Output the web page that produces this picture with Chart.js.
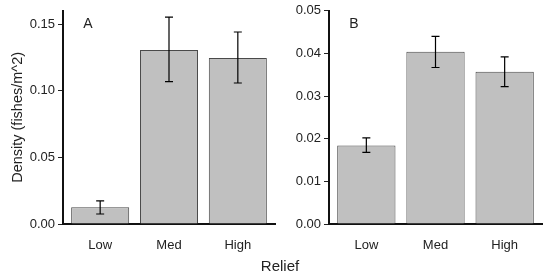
<!DOCTYPE html>
<html>
<head>
<meta charset="utf-8">
<script src="https://cdn.jsdelivr.net/npm/chart.js@4.4.1/dist/chart.umd.min.js"></script>
<style>
  body { margin: 0; background: #fff; }
  #wrap { position: relative; width: 550px; height: 275px; font-family: "Liberation Sans", Arial, sans-serif; }
  canvas { position: absolute; top: 0; }
  #xtitle { position: absolute; left: 230px; width: 100px; top: 257px; text-align: center; font-size: 15px; line-height: 17px; color: #222; }
</style>
</head>
<body>
<div id="wrap">
  <canvas id="chartA" width="280" height="275" style="left:0px"></canvas>
  <canvas id="chartB" width="270" height="275" style="left:280px"></canvas>
  <div id="xtitle">Relief</div>
</div>
<script>
// data
const categories = ["Low", "Med", "High"];

const meanA = [0.0125, 0.1305, 0.1245];
const lowA  = [0.0075, 0.1068, 0.1058];
const highA = [0.0173, 0.1552, 0.1441];
const ticksA = [0, 0.05, 0.10, 0.15];

const meanB = [0.0184, 0.0404, 0.0357];
const lowB  = [0.0168, 0.0367, 0.0322];
const highB = [0.0202, 0.0440, 0.0392];
const ticksB = [0, 0.01, 0.02, 0.03, 0.04, 0.05];

const ink = "#222";
const fontName = "'Liberation Sans', Arial, sans-serif";

// error bars + panel letter
const extras = {
  id: "extras",
  afterDatasetsDraw(chart, args, opts) {
    const ctx = chart.ctx;
    const xs = chart.scales.x, ys = chart.scales.y;
    ctx.save();
    ctx.strokeStyle = "#000";
    ctx.lineWidth = 1.2;
    for (let i = 0; i < opts.lo.length; i++) {
      const x = xs.getPixelForValue(i);
      const y1 = ys.getPixelForValue(opts.lo[i]);
      const y2 = ys.getPixelForValue(opts.hi[i]);
      ctx.beginPath();
      ctx.moveTo(x, y1); ctx.lineTo(x, y2);
      ctx.moveTo(x - 4, y1); ctx.lineTo(x + 4, y1);
      ctx.moveTo(x - 4, y2); ctx.lineTo(x + 4, y2);
      ctx.stroke();
    }
    ctx.fillStyle = ink;
    ctx.font = "14px " + fontName;
    ctx.textAlign = "center";
    ctx.textBaseline = "middle";
    ctx.fillText(opts.letter, chart.chartArea.left + 25, 24);
    ctx.restore();
  }
};

function makeChart(id, mean, lo, hi, tickVals, yMax, axisWidth, pad, letter, yTitle) {
  new Chart(id, {
    type: "bar",
    data: {
      datasets: [{
        data: mean.map((v, i) => ({ x: i, y: v })),
        backgroundColor: "#c0c0c0",
        borderColor: "#4a4a4a",
        borderWidth: 1,
        categoryPercentage: 1,
        barPercentage: 0.843
      }]
    },
    options: {
      responsive: false,
      animation: false,
      layout: { padding: pad },
      plugins: {
        legend: { display: false },
        tooltip: { enabled: false },
        extras: { lo: lo, hi: hi, letter: letter }
      },
      scales: {
        x: {
          type: "linear",
          offset: false,
          min: -0.54, max: 2.54,
          afterBuildTicks: s => { s.ticks = categories.map((c, i) => ({ value: i })); },
          afterFit: s => { s.height = 51; },
          ticks: {
            callback: v => categories[v],
            color: ink,
            padding: 6,
            font: { family: fontName, size: 13 }
          },
          grid: { display: false, offset: false },
          border: { display: true, color: "#111", width: 2 }
        },
        y: {
          min: 0, max: yMax,
          afterBuildTicks: s => { s.ticks = tickVals.map(v => ({ value: v })); },
          afterFit: s => { s.width = axisWidth; },
          ticks: {
            callback: v => v.toFixed(2),
            color: ink,
            padding: 3,
            font: { family: fontName, size: 13 }
          },
          grid: { drawOnChartArea: false, drawTicks: true, tickLength: 5, color: ink, lineWidth: 1 },
          border: { display: true, color: "#111", width: 2 },
          title: {
            display: !!yTitle,
            text: yTitle,
            color: ink,
            padding: { top: 9, bottom: 0 },
            font: { family: fontName, size: 14.5 }
          }
        }
      }
    },
    plugins: [extras]
  });
}

makeChart("chartA", meanA, lowA, highA, ticksA, 0.16, 63, { top: 8, right: 5, bottom: 0, left: 0 }, "A", "Density (fishes/m^2)");
makeChart("chartB", meanB, lowB, highB, ticksB, 0.05, 49, { top: 9, right: 8, bottom: 0, left: 0 }, "B", "");
</script>
</body>
</html>
